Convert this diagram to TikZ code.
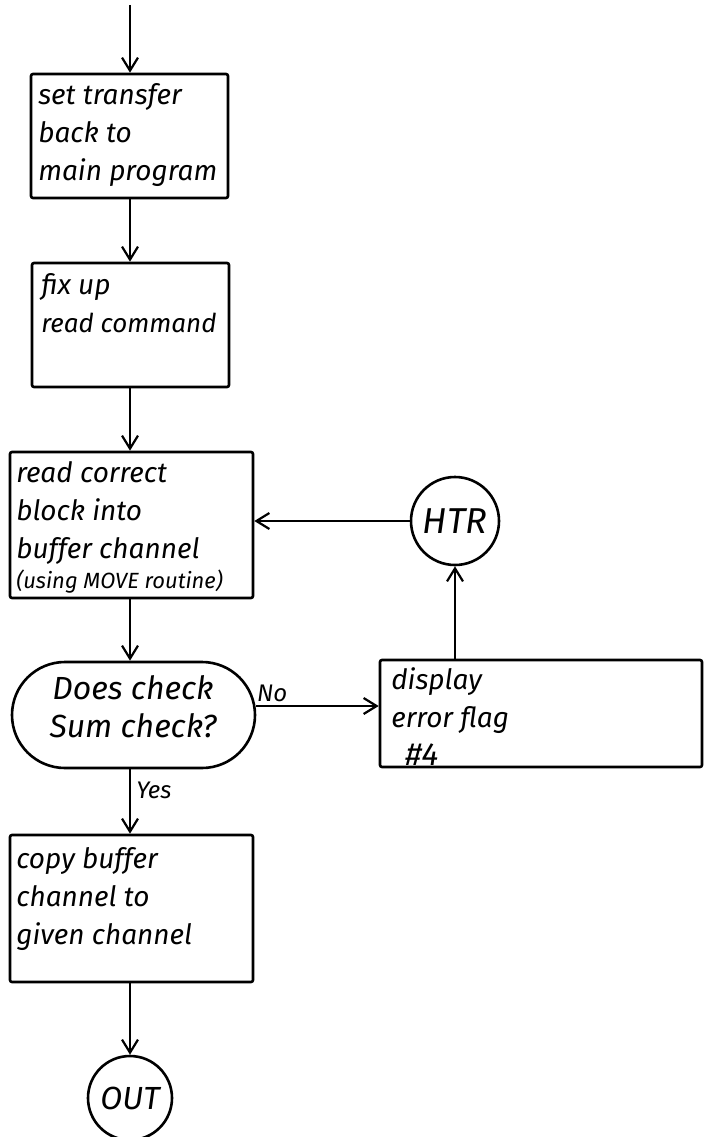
\documentclass[tikz,border=0pt]{standalone}
\usepackage{fontspec}
\setmainfont{Fira Sans}
\usetikzlibrary{arrows.meta,shapes.misc}
\begin{document}
\begin{tikzpicture}[x=1pt,y=-1pt,
  line width=2.6pt,
  flow/.style={-{Straight Barb[length=13pt,width=16pt,line width=2.2pt]}},
  box/.style={draw, rectangle, rounded corners=2pt, inner sep=0pt},
  term/.style={draw, circle, inner sep=0pt},
  decision/.style={draw, rounded rectangle, inner sep=0pt},
  txt/.style={anchor=north west, align=left, inner sep=0pt, font=\itshape\fontsize{28}{38}\selectfont},
  ctxt/.style={align=center, inner sep=0pt, font=\itshape\fontsize{32}{38}\selectfont},
  lbl/.style={inner sep=0pt, font=\itshape\fontsize{24}{24}\selectfont}]
\useasboundingbox (0,0) rectangle (704,1137);
\fill[white] (0,0) rectangle (704,1137);

\coordinate (start) at (130,5);
\node[box, minimum width=197pt, minimum height=124pt] (b1) at (129.5,136) {};
\node[txt] (t1) at (37,82) {set transfer\\back to\\main program};

\node[box, minimum width=197pt, minimum height=124pt] (b2) at (130.5,325) {};
\node[txt] (t2) at (40,272) {fix up\\{\fontsize{26}{26}\selectfont read command}};

\node[box, minimum width=243pt, minimum height=146pt] (b3) at (131.5,525) {};
\node[txt] (t3) at (15,460) {read correct\\block into\\buffer channel\\[-8pt]{\fontsize{22}{22}\selectfont(using MOVE routine)}};

\node[term, minimum size=88pt, font=\itshape\fontsize{36}{36}\selectfont] (htr) at (455,521) {HTR};

\node[decision, minimum width=243pt, minimum height=106pt] (d) at (133.5,715) {};
\node[ctxt] (td) at (133,707) {Does check\\Sum check?};

\node[box, minimum width=322pt, minimum height=107pt] (disp) at (541,713.5) {};
\node[txt] (tdisp) at (390,666) {display\\error flag\\\hspace*{14pt}{\fontsize{32}{32}\selectfont\#4}};

\node[box, minimum width=243pt, minimum height=147pt] (b5) at (131.5,908.5) {};
\node[txt] (t5) at (15,846) {copy buffer\\channel to\\given channel};

\node[term, minimum size=84pt, font=\itshape\fontsize{32}{32}\selectfont] (out) at (130,1098) {OUT};

\draw[flow] (start) -- (b1.north -| start);
\draw[flow] (b1.south -| start) -- (b2.north -| start);
\draw[flow] (b2.south -| start) -- (b3.north -| start);
\draw[flow] (b3.south -| start) -- (d.north -| start);
\draw[flow] (d.south -| start) -- node[lbl, right=5pt, pos=0.33] (yes) {Yes} (b5.north -| start);
\draw[flow] (b5.south -| start) -- (out.north);
\draw[flow] (d.east |- 0,706) -- node[lbl, above=3pt, pos=0.13] (no) {No} (disp.west |- 0,706);
\draw[flow] (disp.north -| htr) -- (htr.south);
\draw[flow] (htr.west) -- (b3.east |- htr.west);
\end{tikzpicture}
\end{document}
